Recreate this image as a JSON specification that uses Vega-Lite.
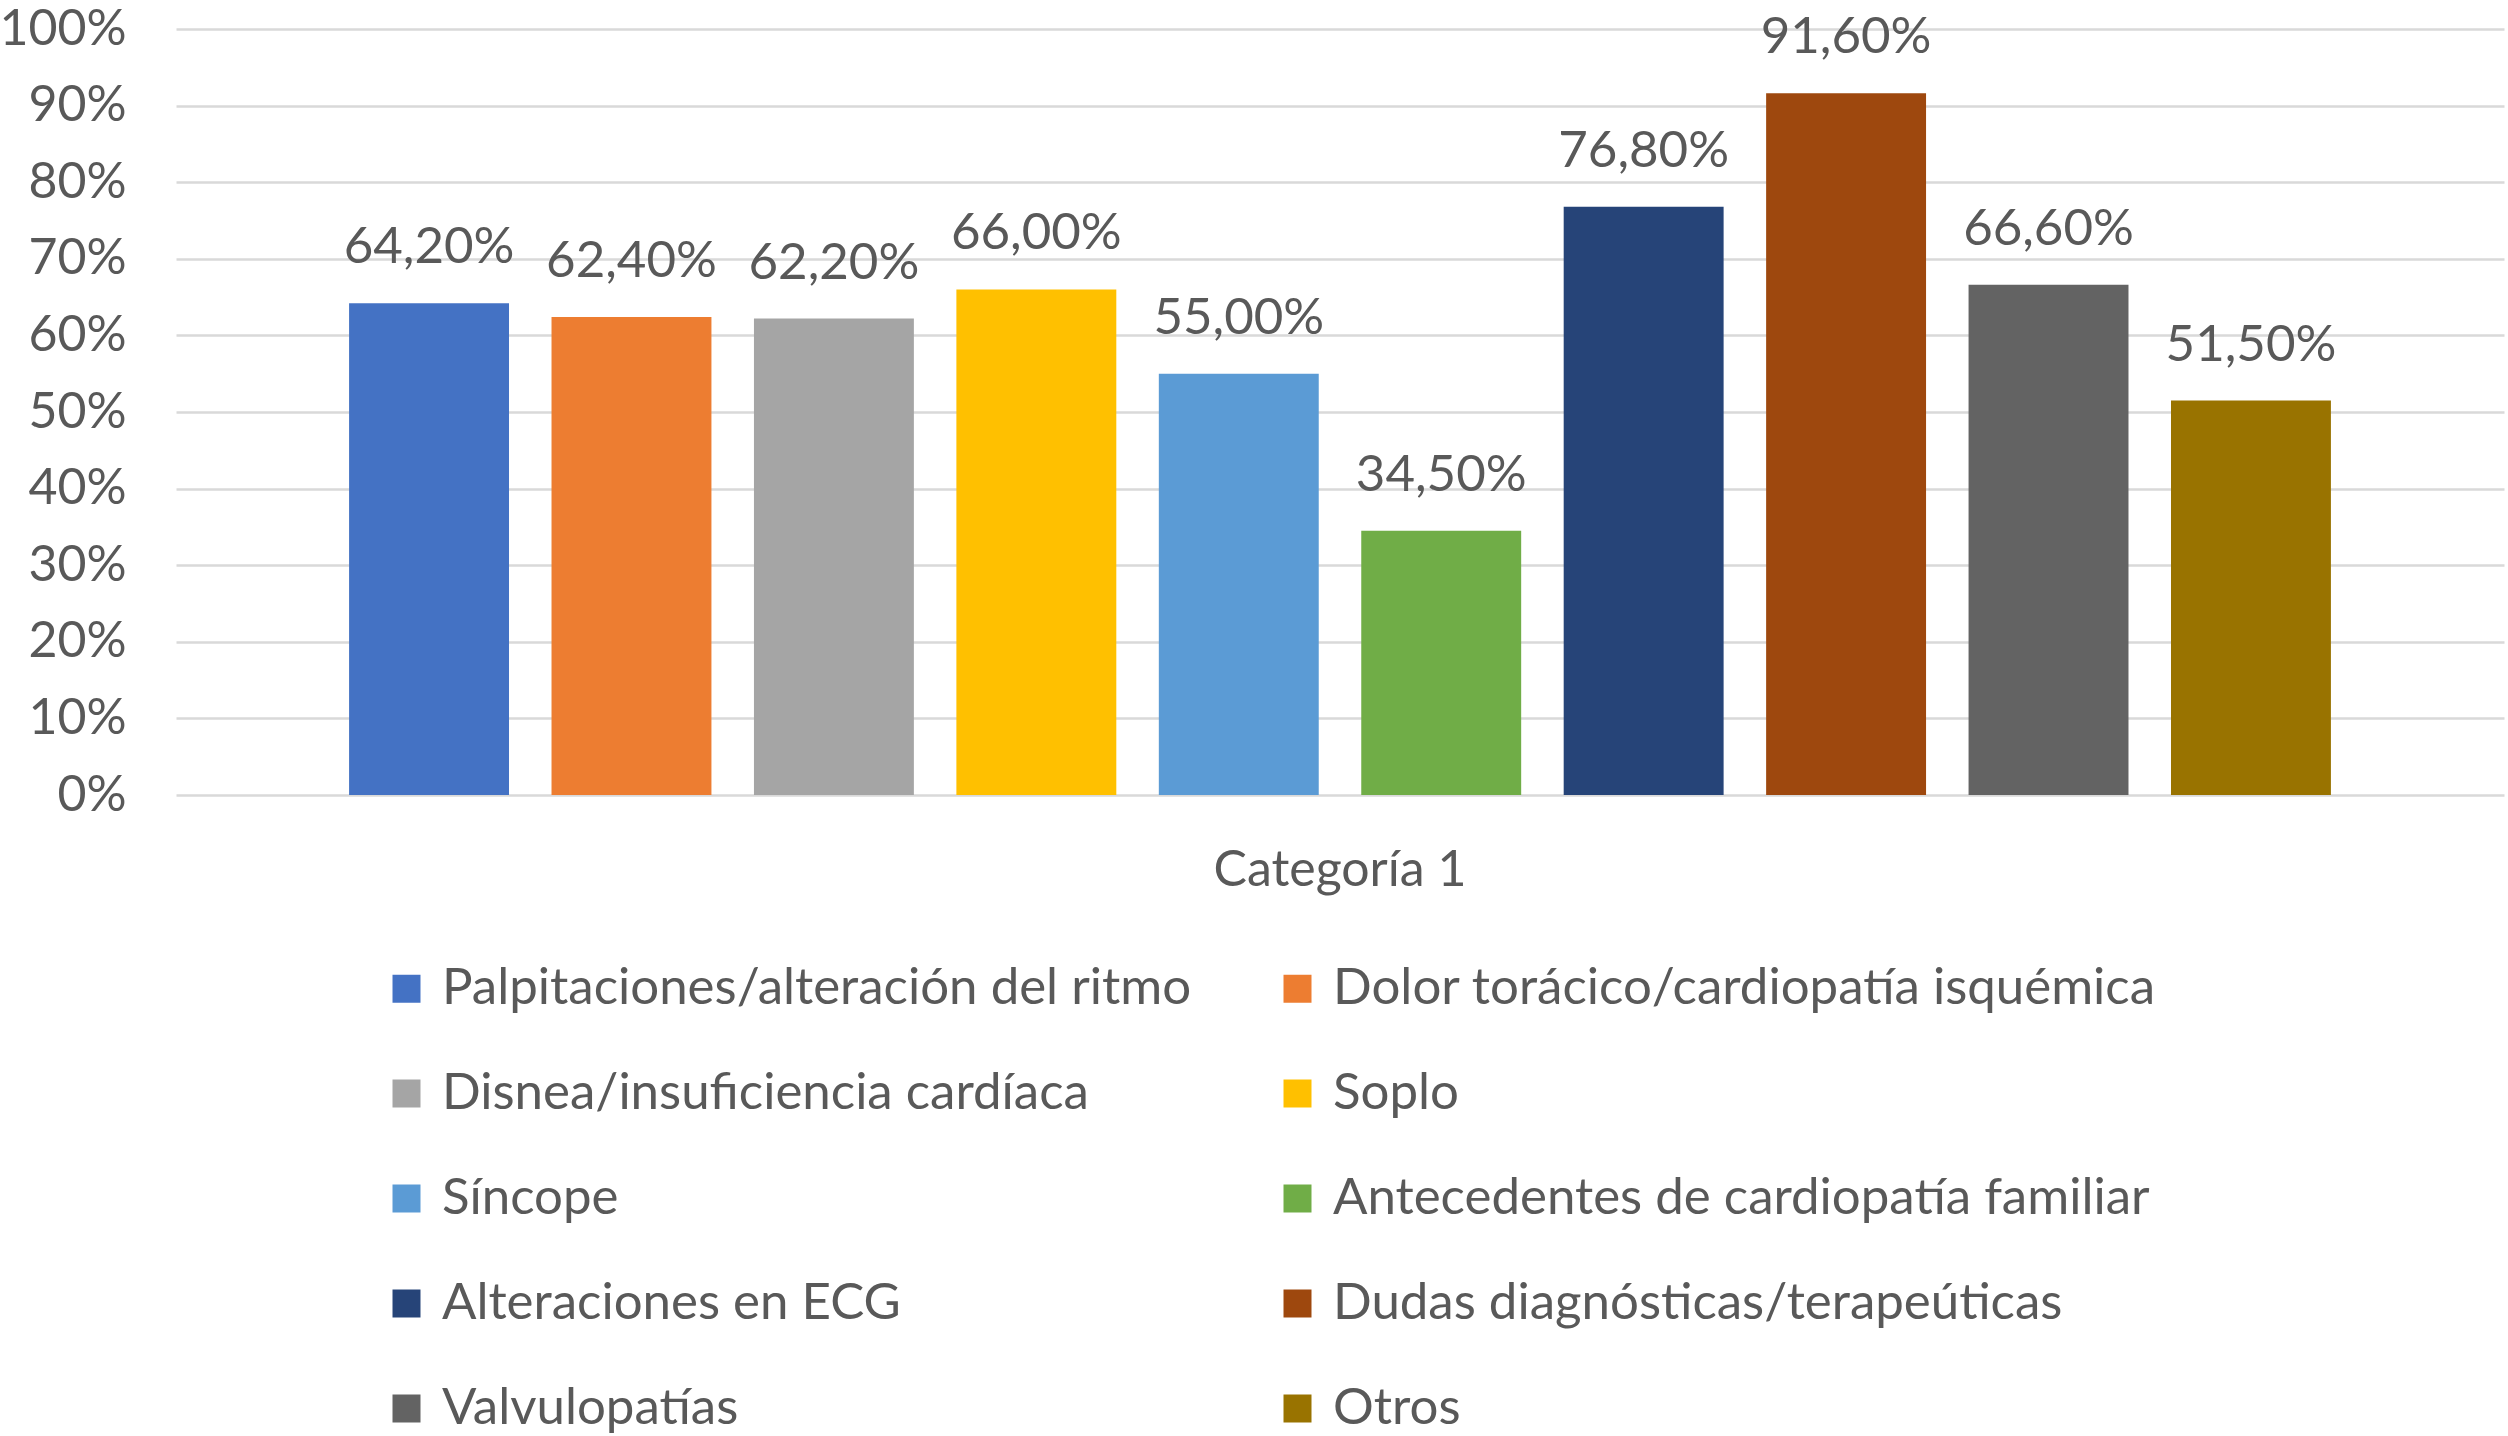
{
  "$schema": "https://vega.github.io/schema/vega-lite/v6.json",
  "autosize": {"type": "none"},
  "padding": {"left": 176, "top": 29, "right": 4, "bottom": 641},
  "width": 2328,
  "height": 766,
  "background": "white",
  "config": {
    "locale": {"number": {"decimal": ",", "thousands": ".", "grouping": [3], "currency": ["", " €"]}},
    "view": {"stroke": null},
    "font": "Lato"
  },
  "data": {
    "values": [
      {"categoria": "Categoría 1", "serie": "Palpitaciones/alteración del ritmo", "valor": 0.642},
      {"categoria": "Categoría 1", "serie": "Dolor torácico/cardiopatía isquémica", "valor": 0.624},
      {"categoria": "Categoría 1", "serie": "Disnea/insuficiencia cardíaca", "valor": 0.622},
      {"categoria": "Categoría 1", "serie": "Soplo", "valor": 0.66},
      {"categoria": "Categoría 1", "serie": "Síncope", "valor": 0.55},
      {"categoria": "Categoría 1", "serie": "Antecedentes de cardiopatía familiar", "valor": 0.345},
      {"categoria": "Categoría 1", "serie": "Alteraciones en ECG", "valor": 0.768},
      {"categoria": "Categoría 1", "serie": "Dudas diagnósticas/terapeúticas", "valor": 0.916},
      {"categoria": "Categoría 1", "serie": "Valvulopatías", "valor": 0.666},
      {"categoria": "Categoría 1", "serie": "Otros", "valor": 0.515}
    ]
  },
  "encoding": {
    "x": {
      "field": "categoria",
      "type": "nominal",
      "scale": {"paddingInner": 0, "paddingOuter": 0.075},
      "axis": {
        "title": null,
        "labelAngle": 0,
        "domain": false,
        "ticks": false,
        "labelPadding": 50,
        "labelFontSize": 50,
        "labelColor": "#595959",
        "labelFont": "Lato",
        "labelLimit": 0
      }
    },
    "xOffset": {
      "field": "serie",
      "type": "nominal",
      "sort": ["Palpitaciones/alteración del ritmo", "Dolor torácico/cardiopatía isquémica", "Disnea/insuficiencia cardíaca", "Soplo", "Síncope", "Antecedentes de cardiopatía familiar", "Alteraciones en ECG", "Dudas diagnósticas/terapeúticas", "Valvulopatías", "Otros"],
      "scale": {"paddingInner": 0.21, "paddingOuter": 0.105}
    },
    "y": {
      "field": "valor",
      "type": "quantitative",
      "scale": {"domain": [0, 1]},
      "axis": {
        "title": null,
        "format": ".0%",
        "values": [0, 0.1, 0.2, 0.3, 0.4, 0.5, 0.6, 0.7, 0.8, 0.9, 1],
        "domain": false,
        "ticks": false,
        "labelPadding": 50,
        "labelFontSize": 50,
        "labelColor": "#595959",
        "labelFont": "Lato",
        "gridColor": "#D9D9D9",
        "gridWidth": 2.5
      }
    }
  },
  "layer": [
    {
      "mark": {"type": "bar"},
      "encoding": {
        "color": {
          "field": "serie",
          "type": "nominal",
          "scale": {
            "domain": ["Palpitaciones/alteración del ritmo", "Dolor torácico/cardiopatía isquémica", "Disnea/insuficiencia cardíaca", "Soplo", "Síncope", "Antecedentes de cardiopatía familiar", "Alteraciones en ECG", "Dudas diagnósticas/terapeúticas", "Valvulopatías", "Otros"],
            "range": ["#4472C4", "#ED7D31", "#A5A5A5", "#FFC000", "#5B9BD5", "#70AD47", "#264478", "#9E480E", "#636363", "#997300"]
          },
          "legend": {
            "title": null,
            "orient": "none",
            "legendX": 205,
            "legendY": 934,
            "columns": 2,
            "direction": "horizontal",
            "columnPadding": 80,
            "rowPadding": 53,
            "symbolType": "square",
            "symbolSize": 784,
            "symbolStrokeWidth": 0,
            "labelOffset": 10,
            "labelFontSize": 51,
            "labelColor": "#595959",
            "labelFont": "Lato",
            "labelLimit": 2000
          }
        }
      }
    },
    {
      "mark": {"type": "text", "dy": -40, "baseline": "alphabetic", "fontSize": 51, "color": "#595959", "font": "Lato"},
      "encoding": {
        "text": {"field": "valor", "type": "quantitative", "format": ".2%"}
      }
    }
  ]
}
